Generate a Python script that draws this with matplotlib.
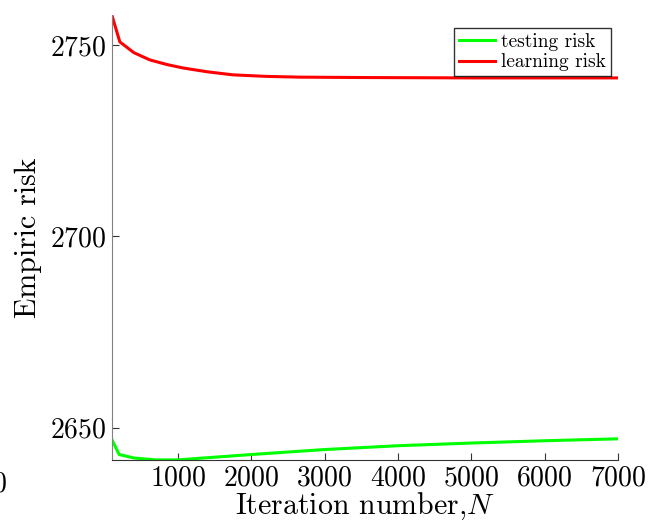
import numpy as np
import matplotlib
matplotlib.use("Agg")
from matplotlib import pyplot as plt

plt.rcParams["font.family"] = ["cmr10", "DejaVu Serif"]
plt.rcParams["mathtext.fontset"] = "cm"
plt.rcParams["axes.formatter.use_mathtext"] = True

# learning risk (red)
learn_x = [100, 209, 400, 618, 850, 1069, 1400, 1751, 2200, 2665, 3500, 5000, 7000]
learn_y = [2757.8, 2750.8, 2748.0, 2746.1, 2744.9, 2744.0, 2743.0, 2742.2, 2741.8, 2741.6, 2741.5, 2741.4, 2741.4]

# testing risk (green)
test_x = [100, 200, 400, 700, 1000, 1500, 2000, 3000, 4000, 5000, 6000, 7000]
test_y = [2646.9, 2643.0, 2642.1, 2641.6, 2641.6, 2642.3, 2643.0, 2644.3, 2645.3, 2646.0, 2646.6, 2647.1]

x_ticks = [1000, 2000, 3000, 4000, 5000, 6000, 7000]
y_ticks = [2650, 2700, 2750]

fig = plt.figure(figsize=(6.58, 5.22), dpi=100)
ax = fig.add_axes([0.170, 0.119, 0.769, 0.852])

ax.plot(test_x, test_y, color="#00ff00", linewidth=2.2, label="testing risk")
ax.plot(learn_x, learn_y, color="#ff0000", linewidth=2.2, label="learning risk")

ax.set_xlim(100, 7000)
ax.set_ylim(2641.6, 2757.8)
ax.set_xticks(x_ticks)
ax.set_yticks(y_ticks)
ax.tick_params(direction="in", length=5, labelsize=20, colors="#333333", labelcolor="black")
ax.tick_params(axis="x", pad=4)
ax.tick_params(axis="y", pad=4)

for side in ["top", "right"]:
    ax.spines[side].set_visible(False)
ax.spines["left"].set_color("#808080")
ax.spines["bottom"].set_color("#333333")

# stray 0 label at far left, as in the original
ax.text(-0.222, -0.026, "0", transform=ax.transAxes, fontsize=20, ha="center", va="top")

ax.set_ylabel("Empiric risk", fontsize=21.5, labelpad=6)
ax.set_xlabel(r"Iteration number,$N$", fontsize=21.5, labelpad=-0.5)

leg = ax.legend(loc="upper right", bbox_to_anchor=(0.998, 0.985), fontsize=14,
                frameon=True, fancybox=False, handlelength=1.9, borderpad=0.25,
                labelspacing=0.15, handletextpad=0.3, borderaxespad=0.3)
leg.get_frame().set_edgecolor("black")
leg.get_frame().set_linewidth(1.0)

fig.savefig("out.png", dpi=100)
